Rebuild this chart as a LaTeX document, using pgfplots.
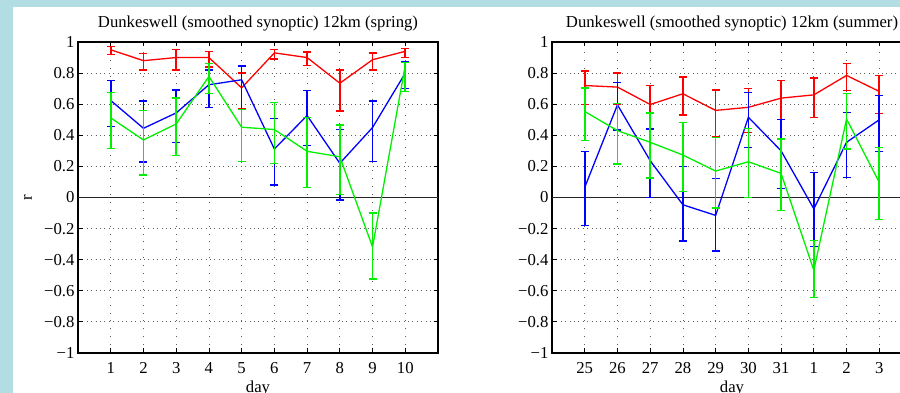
\documentclass[border=0pt]{standalone}
\usepackage{fontspec}
\setmainfont{Liberation Serif}
\usepackage{pgfplots}
\usepackage{pgfplotstable}
\pgfplotsset{compat=1.18}
\definecolor{bgblue}{RGB}{178,221,226}
\definecolor{gridc}{RGB}{95,95,95}
\definecolor{mred}{RGB}{255,0,0}
\definecolor{mblue}{RGB}{0,0,255}
\definecolor{mgreen}{RGB}{0,240,0}

% left panel (spring)
\pgfplotstableread{
x y hi lo
1 0.95 0.97 0.92
2 0.88 0.925 0.82
3 0.90 0.95 0.82
4 0.90 0.94 0.84
5 0.705 0.80 0.57
6 0.93 0.95 0.89
7 0.90 0.935 0.85
8 0.735 0.82 0.557
9 0.886 0.93 0.82
10 0.94 0.96 0.90
}\spRed
\pgfplotstableread{
x y hi lo
1 0.624 0.753 0.456
2 0.445 0.62 0.228
3 0.544 0.692 0.355
4 0.725 0.82 0.58
5 0.757 0.845 0.568
6 0.312 0.51 0.08
7 0.527 0.686 0.335
8 0.22 0.437 -0.017
9 0.45 0.62 0.23
10 0.80 0.875 0.70
}\spBlue
\pgfplotstableread{
x y hi lo
1 0.512 0.673 0.316
2 0.37 0.56 0.144
3 0.473 0.64 0.27
4 0.778 0.86 0.667
5 0.452 0.568 0.232
6 0.437 0.61 0.22
7 0.297 0.516 0.065
8 0.262 0.467 0.02
9 -0.318 -0.10 -0.524
10 0.85 0.87 0.68
}\spGreen
% right panel (summer)
\pgfplotstableread{
x y hi lo
1 0.72 0.813 0.598
2 0.71 0.80 0.60
3 0.598 0.718 0.44
4 0.667 0.774 0.531
5 0.56 0.692 0.39
6 0.58 0.70 0.42
7 0.639 0.753 0.50
8 0.66 0.768 0.516
9 0.785 0.86 0.688
10 0.682 0.783 0.542
}\suRed
\pgfplotstableread{
x y hi lo
1 0.065 0.295 -0.178
2 0.596 0.74 0.434
3 0.237 0.44 -0.002
4 -0.047 0.198 -0.28
5 -0.115 0.123 -0.344
6 0.516 0.675 0.323
7 0.30 0.50 0.06
8 -0.073 0.16 -0.314
9 0.355 0.547 0.13
10 0.50 0.658 0.295
}\suBlue
\pgfplotstableread{
x y hi lo
1 0.553 0.705 0.366
2 0.43 0.606 0.215
3 0.355 0.544 0.125
4 0.273 0.482 0.04
5 0.17 0.387 -0.068
6 0.23 0.445 0.0
7 0.155 0.376 -0.083
8 -0.468 -0.276 -0.643
9 0.505 0.667 0.312
10 0.097 0.323 -0.143
}\suGreen

\newcommand{\fs}{\fontsize{16.7}{20}\selectfont}
\pgfplotsset{
  myax/.style={
    scale only axis, width=360pt, height=311pt,
    xmin=0, xmax=11, ymin=-1, ymax=1,
    xtick={1,2,3,4,5,6,7,8,9,10},
    ytick={-1,-0.8,-0.6,-0.4,-0.2,0,0.2,0.4,0.6,0.8,1},
    yticklabels={−1,−0.8,−0.6,−0.4,−0.2,0,0.2,0.4,0.6,0.8,1},
    tick align=inside, xtick pos=both, ytick pos=both,
    xticklabel pos=bottom, yticklabel pos=left,
    major tick length=4.5pt,
    grid=major,
    major x grid style={gridc, line width=0.8pt, dash pattern=on 0.9pt off 7pt},
    major y grid style={gridc, line width=0.8pt, dash pattern=on 0.9pt off 3.5pt},
    axis line style={line width=1.2pt, black},
    tick style={black, line width=0.8pt},
    tick label style={font=\fs, black},
    xticklabel style={anchor=base, yshift=-21pt},
    title style={font=\fs, at={(0.5,1)}, anchor=base, yshift=8pt},
    every axis x label/.style={at={(axis description cs:0.5,0)}, anchor=base, yshift=-40pt, font=\fs},
    every axis y label/.style={at={(axis description cs:-0.139,0.5)}, anchor=center, rotate=90, font=\fs},
  },
}
\newcommand{\plotser}[2]{%
  \addplot[#1, line width=1.3pt, mark=none,
    error bars/y dir=both, error bars/y explicit,
    error bars/error bar style={draw=#1, line width=1.6pt, solid},
    error bars/error mark options={draw=#1, rotate=90, mark size=4pt, line width=1.3pt}]
    table[x=x, y=y,
    y error plus expr=\thisrow{hi}-\thisrow{y},
    y error minus expr=\thisrow{y}-\thisrow{lo}] {#2};}

\begin{document}
\begin{tikzpicture}[x=1pt,y=1pt]
\useasboundingbox (0,0) rectangle (900,393);
\clip (0,0) rectangle (900,393);
\fill[bgblue] (0,0) rectangle (900,393);
\fill[white] (12.7,0) rectangle (900,386.3);

\begin{axis}[myax, at={(78pt,40pt)}, anchor=south west,
  title={Dunkeswell (smoothed synoptic) 12km (spring)},
  xticklabels={1,2,3,4,5,6,7,8,9,10},
  xlabel={day}, ylabel={r}]
  \addplot[black!85, line width=1pt, forget plot] coordinates {(0,0) (11,0)};
  \plotser{mred}{\spRed}
  \plotser{mblue}{\spBlue}
  \plotser{mgreen}{\spGreen}
\end{axis}

\begin{axis}[myax, at={(552pt,40pt)}, anchor=south west,
  title={Dunkeswell (smoothed synoptic) 12km (summer)},
  xticklabels={25,26,27,28,29,30,31,1,2,3},
  xlabel={day}]
  \addplot[black!85, line width=1pt, forget plot] coordinates {(0,0) (11,0)};
  \plotser{mred}{\suRed}
  \plotser{mblue}{\suBlue}
  \plotser{mgreen}{\suGreen}
\end{axis}
\end{tikzpicture}
\end{document}
